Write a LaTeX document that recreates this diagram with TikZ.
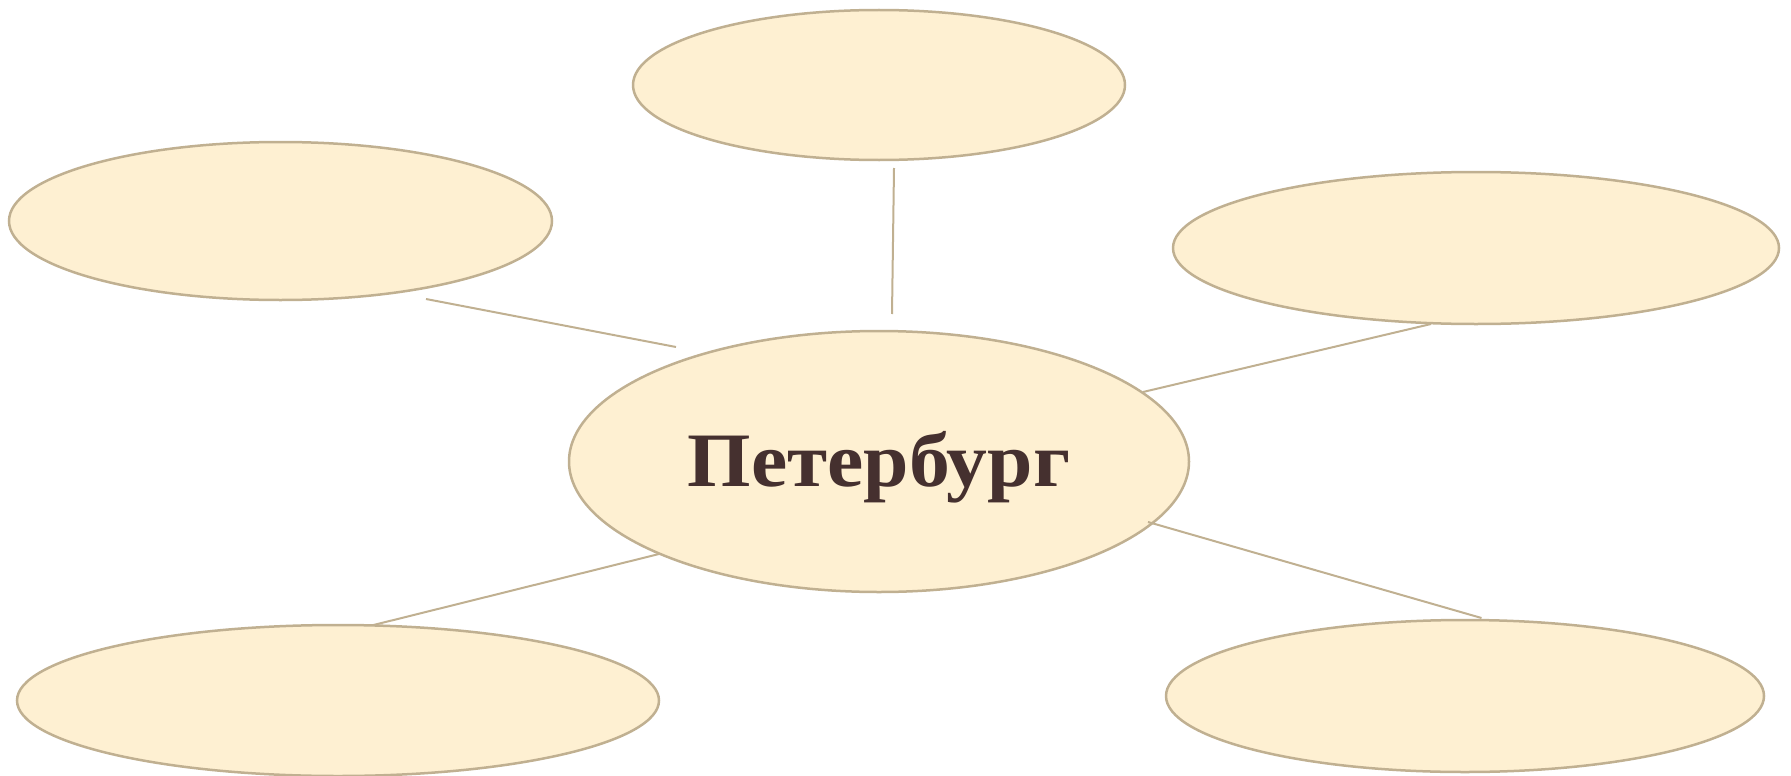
\documentclass[tikz,border=0pt]{standalone}
\usepackage{fontspec}
\setmainfont{Liberation Serif}
\usetikzlibrary{shapes.geometric}
\definecolor{bubblefill}{HTML}{FEF0D2}
\definecolor{bubbleline}{HTML}{C0B091}
\definecolor{titletext}{HTML}{45302F}
\begin{document}
\begin{tikzpicture}[x=1pt,y=-1pt,
  bubble/.style={ellipse,draw=bubbleline,fill=bubblefill,line width=2.5pt,inner sep=0pt},
  link/.style={draw=bubbleline,line width=2pt}]
\useasboundingbox (0,0) rectangle (1791,776);
\node[bubble,minimum width=492pt,minimum height=150pt] (top) at (879,85) {};
\node[bubble,minimum width=543pt,minimum height=158pt] (left) at (280.5,221) {};
\node[bubble,minimum width=606pt,minimum height=152pt] (right) at (1476,248) {};
\node[bubble,minimum width=620pt,minimum height=261pt,text=titletext,
  text height=50pt,text depth=0pt,
  font=\fontsize{77}{80}\selectfont\bfseries] (center) at (879,461.5) {\scalebox{1.06}[1]{Петербург}};
\node[bubble,minimum width=642pt,minimum height=151pt] (bl) at (338,700.5) {};
\node[bubble,minimum width=598pt,minimum height=152pt] (br) at (1465,696) {};
% connector end points
\coordinate (t1) at (892,314); \coordinate (t2) at (894,168);
\coordinate (l1) at (676,347); \coordinate (l2) at (426,299);
\coordinate (r1) at (1143,392); \coordinate (r2) at (1431,324);
\coordinate (b1) at (659,554); \coordinate (b2) at (373.5,625);
\coordinate (d1) at (1148,522); \coordinate (d2) at (1481.5,618);
\draw[link] (t1) -- (t2);
\draw[link] (l1) -- (l2);
\draw[link] (r1) -- (r2);
\draw[link] (b1) -- (b2);
\draw[link] (d1) -- (d2);
\end{tikzpicture}
\end{document}
